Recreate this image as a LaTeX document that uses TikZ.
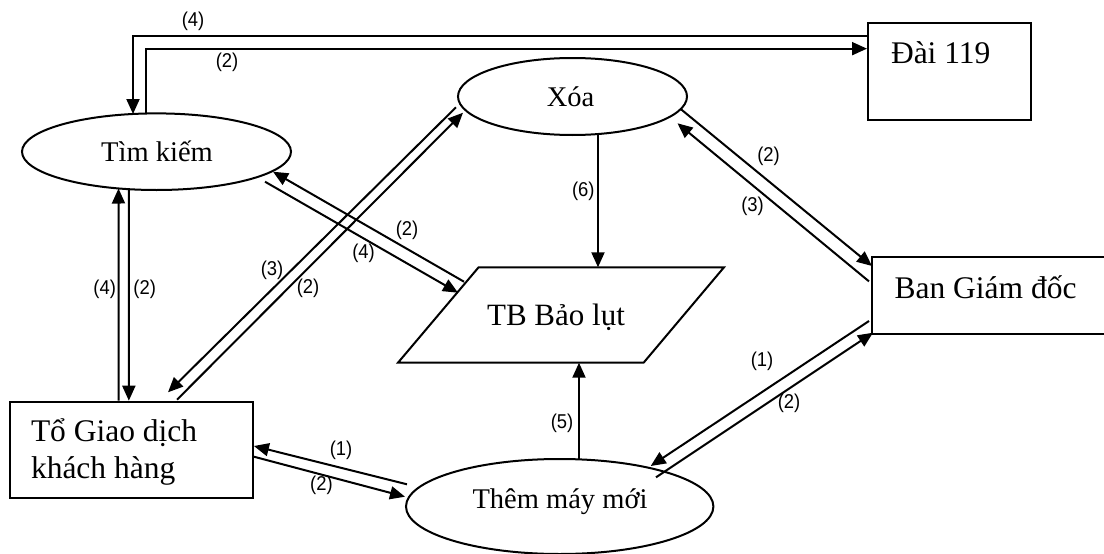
\documentclass[tikz,border=0pt]{standalone}
\usepackage{fontspec}
\setmainfont{Liberation Serif}
\newfontfamily\labelfont[FakeStretch=0.92]{Liberation Sans}
\usetikzlibrary{calc,arrows.meta,shapes.geometric}
\begin{document}
\begin{tikzpicture}[x=1pt,y=-1pt,
  line width=2pt,
  proc/.style={draw,ellipse,inner sep=0pt},
  ent/.style={draw,rectangle,inner sep=0pt},
  flow/.style={-{Triangle[length=15pt,width=13pt]}},
  ptxt/.style={font=\fontsize{28.5}{34}\selectfont,inner sep=0pt,anchor=base},
  etxt/.style={font=\fontsize{31.5}{38}\selectfont,inner sep=0pt,anchor=base west},
  num/.style={font=\labelfont\fontsize{20}{23}\selectfont,inner sep=0pt}
]
\useasboundingbox (0,0) rectangle (1104,554);

% processes (ellipses)
\node[proc,minimum width=269pt,minimum height=76.6pt] (tim) at (156.5,151.7) {};
\node[proc,minimum width=229pt,minimum height=77pt] (xoa) at (572.5,96.5) {};
\node[proc,minimum width=307.4pt,minimum height=95pt] (them) at (559.7,506.5) {};

% external entities (rectangles)
\node[ent,minimum width=163pt,minimum height=96.7pt] (dai) at (949.5,71.65) {};
\node[ent,minimum width=243pt,minimum height=77pt] (ban) at (993.5,295.5) {};
\node[ent,minimum width=243.3pt,minimum height=96pt] (tgd) at (131.25,449.7) {};

% data store (parallelogram)
\node[inner sep=0pt,outer sep=0pt,minimum width=326pt,minimum height=95.4pt] (tb) at (561,315) {};
\draw (tb.south west) -- ($(tb.north west)+(80.6,0)$) -- (tb.north east)
      -- ($(tb.south east)+(-80.4,0)$) -- cycle;

% texts
\node[ptxt] (timtxt) at (157,161.7) {Tìm kiếm};
\node[ptxt] (xoatxt) at (570.5,106) {Xóa};
\node[ptxt] (themtxt) at (560,508) {Thêm máy mới};
\node[etxt] (daitxt) at (890,63.3) {Đài 119};
\node[etxt] (bantxt) at (893.6,298.3) {Ban Giám đốc};
\node[etxt] (tgdtxt1) at (30,441.7) {Tổ Giao dịch};
\node[etxt] (tgdtxt2) at (30,478.3) {khách hàng};
\node[etxt,anchor=base,font=\fontsize{31}{37}\selectfont] (tbtxt) at (556,325) {TB Bảo lụt};

% flows
\draw[flow] ($(dai.west)+(0,-35.2)$) -| ($(tim.center)+(-23.5,-37.7)$);
\draw[flow] ($(tim.center)+(-10.1,-38.2)$) |- ($(dai.west)+(0,-23)$);
\draw[flow] ($(tgd.north)+(-12.6,0)$) -- ($(tim.center)+(-38,36.8)$);
\draw[flow] ($(tim.center)+(-27.6,37.5)$) -- ($(tgd.north)+(-2.4,0)$);
\draw[flow] ($(xoa.center)+(-116.5,10.8)$) -- ($(tgd.north)+(36.75,-8.4)$);
\draw[flow] ($(tgd.north)+(45.75,-1)$) -- ($(xoa.center)+(-109.5,16.2)$);
\draw[flow] ($(tb.north west)+(66,14.4)$) -- ($(tim.center)+(116.5,20)$);
\draw[flow] ($(tim.center)+(108.5,30)$) -- ($(tb.north west)+(60,25.4)$);
\draw[flow] ($(xoa.center)+(25.5,37.5)$) -- ($(tb.north)+(37,0)$);
\draw[flow] ($(xoa.center)+(108.5,12.8)$) -- ($(ban.north west)+(1,10)$);
\draw[flow] ($(ban.north west)+(-2,25.4)$) -- ($(xoa.center)+(105,26.8)$);
\draw[flow] ($(ban.south west)+(-2,-14)$) -- ($(them.center)+(91,-40.5)$);
\draw[flow] ($(them.center)+(96.3,-29.2)$) -- ($(ban.south west)+(2,-2.3)$);
\draw[flow] ($(them.center)+(19.3,-47.1)$) -- ($(tb.south)+(18,0)$);
\draw[flow] ($(them.center)+(-152.7,-22.2)$) -- ($(tgd.east)+(0,-3.7)$);
\draw[flow] ($(tgd.east)+(0,7)$) -- ($(them.center)+(-154.7,-9.8)$);

% flow numbers
\node[num] (n1) at (193,21) {(4)};
\node[num] (n2) at (227,62) {(2)};
\node[num] (n3) at (104.7,289) {(4)};
\node[num] (n4) at (144.7,289) {(2)};
\node[num] (n5) at (272,270) {(3)};
\node[num] (n6) at (308,288.3) {(2)};
\node[num] (n7) at (407,230) {(2)};
\node[num] (n8) at (363.6,253.3) {(4)};
\node[num] (n9) at (583.3,191.7) {(6)};
\node[num] (n10) at (768.6,156.7) {(2)};
\node[num] (n11) at (752.5,206) {(3)};
\node[num] (n12) at (762,361.7) {(1)};
\node[num] (n13) at (789,403.3) {(2)};
\node[num] (n14) at (562,423.3) {(5)};
\node[num] (n15) at (341,450) {(1)};
\node[num] (n16) at (321.4,485) {(2)};
\end{tikzpicture}
\end{document}
